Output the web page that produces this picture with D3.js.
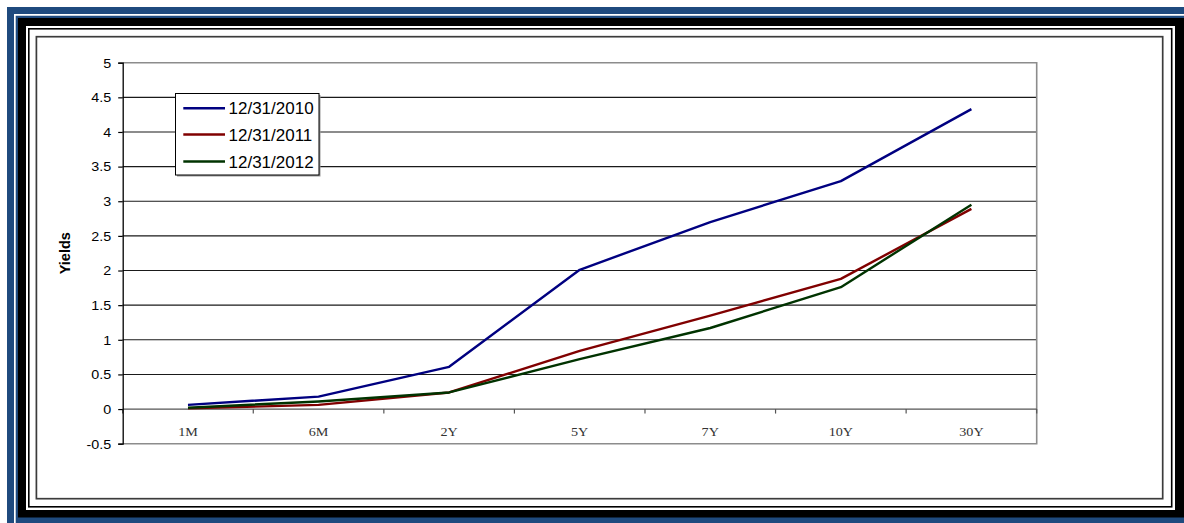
<!DOCTYPE html>
<html>
<head>
<meta charset="utf-8">
<script src="https://cdn.jsdelivr.net/npm/d3@7/dist/d3.min.js"></script>
<style>
  html, body { margin: 0; padding: 0; background: #fff; }
  svg { display: block; }
</style>
</head>
<body>
<svg id="chart" width="1184" height="523"></svg>
<script>
// Treasury yield curves at three year-ends
const maturities = ["1M", "6M", "2Y", "5Y", "7Y", "10Y", "30Y"];
const seriesNames = ["12/31/2010", "12/31/2011", "12/31/2012"];
const yields2010 = [0.06, 0.18, 0.61, 2.01, 2.70, 3.29, 4.33];
const yields2011 = [0.01, 0.06, 0.24, 0.84, 1.35, 1.88, 2.89];
const yields2012 = [0.02, 0.11, 0.24, 0.72, 1.17, 1.76, 2.95];
const yTicks = [-0.5, 0, 0.5, 1, 1.5, 2, 2.5, 3, 3.5, 4, 4.5, 5];
const seriesColors = ["#000080", "#800000", "#003300"];

const series = [yields2010, yields2011, yields2012].map((vals, i) => ({
  name: seriesNames[i],
  color: seriesColors[i],
  values: vals
}));

const svg = d3.select("#chart");

// ---- decorative frame ----
svg.append("rect").attr("x", 7).attr("y", 7).attr("width", 1177).attr("height", 516).attr("fill", "#1f4a7e");
svg.append("path").attr("d", "M14.85,1184 V14.85 H1184").attr("fill", "none")
  .attr("stroke", "#fff").attr("stroke-width", 1.7);
svg.append("rect").attr("x", 18).attr("y", 18).attr("width", 1166).attr("height", 499.5).attr("fill", "#000");
svg.append("rect").attr("x", 26).attr("y", 26).attr("width", 1149).attr("height", 484).attr("fill", "#fff");
svg.append("rect").attr("x", 28.8).attr("y", 28.8).attr("width", 1142.9).attr("height", 478).attr("fill", "none")
  .attr("stroke", "#000").attr("stroke-width", 1.6);
svg.append("rect").attr("x", 36.4).attr("y", 36.7).attr("width", 1126.3).attr("height", 462).attr("fill", "none")
  .attr("stroke", "#3c3c3c").attr("stroke-width", 1.7);

// ---- scales ----
const plotL = 122.7, plotR = 1036.7, plotT = 62.7, plotB = 443.7;
const x = d3.scaleBand().domain(maturities).range([plotL, plotR]).padding(0);
const xc = d => x(d) + x.bandwidth() / 2;
const y = d3.scaleLinear().domain([-0.5, 5]).range([plotB, plotT]);

const g = svg.append("g");

// horizontal gridlines
g.append("g").selectAll("line")
  .data(yTicks.filter(t => t > 0 && t < 5))
  .join("line")
  .attr("x1", plotL).attr("x2", plotR)
  .attr("y1", d => y(d)).attr("y2", d => y(d))
  .attr("stroke", "#1a1a1a").attr("stroke-width", 1.1);

// plot area border (top, right, bottom)
g.append("path")
  .attr("d", `M${plotL},${y(5)} H${plotR} V${y(-0.5)} H${plotL}`)
  .attr("fill", "none").attr("stroke", "#8c8c8c").attr("stroke-width", 1.6);

// category axis at zero
const xAxisG = g.append("g").attr("transform", `translate(0,${y(0)})`);
xAxisG.append("line").attr("x1", plotL).attr("x2", plotR).attr("y1", 0).attr("y2", 0)
  .attr("stroke", "#555").attr("stroke-width", 1.3);
const boundaries = maturities.map(m => x(m)).concat([plotR]);
xAxisG.selectAll("line.tick").data(boundaries).join("line").attr("class", "tick")
  .attr("x1", d => d).attr("x2", d => d).attr("y1", 0).attr("y2", 4.5)
  .attr("stroke", "#555").attr("stroke-width", 1.2);
g.append("g").selectAll("text").data(maturities).join("text")
  .attr("transform", d => `translate(${xc(d)},${y(-0.5) - 7.5}) scale(1.05,1)`)
  .attr("text-anchor", "middle")
  .attr("font-family", "'Liberation Serif', 'Times New Roman', serif")
  .attr("font-size", 13.5)
  .attr("fill", "#333")
  .text(d => d);

// value axis
const yAxis = d3.axisLeft(y).tickValues(yTicks).tickSize(4.5).tickPadding(7)
  .tickFormat(d => String(d));
const yAxisG = g.append("g").attr("transform", `translate(${plotL},0)`).call(yAxis);
yAxisG.select(".domain").attr("stroke", "#000").attr("stroke-width", 1.3);
yAxisG.selectAll(".tick line").attr("stroke", "#000").attr("stroke-width", 1.2);
yAxisG.selectAll(".tick text")
  .attr("font-family", "'Liberation Sans', Arial, sans-serif")
  .attr("font-size", 12.8)
  .attr("fill", "#000")
  .attr("transform", "scale(1.12,1)")
  .attr("x", -11.5 / 1.12)
  .attr("dy", "0.34em");

// axis title
svg.append("text")
  .attr("transform", `translate(70,${(plotT + plotB) / 2}) rotate(-90)`)
  .attr("text-anchor", "middle")
  .attr("font-family", "'Liberation Sans', Arial, sans-serif")
  .attr("font-weight", "bold")
  .attr("font-size", 14.5)
  .text("Yields");

// series lines
const line = d3.line().x((d, i) => xc(maturities[i])).y(d => y(d));
g.append("g").selectAll("path").data(series).join("path")
  .attr("d", d => line(d.values))
  .attr("fill", "none")
  .attr("stroke", d => d.color)
  .attr("stroke-width", 2.4)
  .attr("stroke-linejoin", "round");

// legend
const lg = svg.append("g");
const lgX = 175.5, lgY = 93.5, lgW = 143.5, lgH = 81.5;
lg.append("rect").attr("x", lgX + 1.5).attr("y", lgY + 1.5).attr("width", lgW).attr("height", lgH).attr("fill", "#999");
lg.append("rect").attr("x", lgX).attr("y", lgY).attr("width", lgW).attr("height", lgH)
  .attr("fill", "#fff").attr("stroke", "#000").attr("stroke-width", 1);
const rowY = [108.3, 134.5, 161.5];
const rows = lg.selectAll("g.row").data(series).join("g").attr("class", "row")
  .attr("transform", (d, i) => `translate(0,${rowY[i]})`);
rows.append("line").attr("x1", 183.3).attr("x2", 225).attr("y1", 0).attr("y2", 0)
  .attr("stroke", d => d.color).attr("stroke-width", 2.4);
rows.append("text").attr("x", 228.5).attr("dy", "0.36em")
  .attr("font-family", "'Liberation Sans', Arial, sans-serif")
  .attr("font-size", 17)
  .attr("fill", "#000")
  .text(d => d.name);
</script>
</body>
</html>
